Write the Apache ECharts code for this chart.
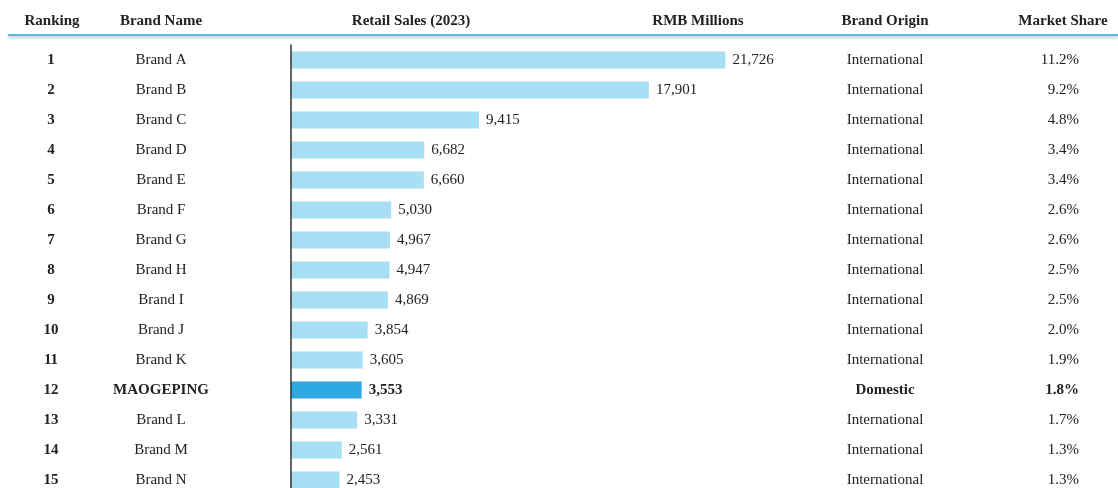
<!DOCTYPE html>
<html>
<head>
<meta charset="utf-8">
<script src="https://cdn.jsdelivr.net/npm/echarts@6/dist/echarts.min.js"></script>
<style>
html,body{margin:0;padding:0;background:#fff;}
#chart{width:1118px;height:488px;}
</style>
</head>
<body>
<div id="chart"></div>
<script>
var ranks = ['1','2','3','4','5','6','7','8','9','10','11','12','13','14','15'];
var brands = ['Brand A','Brand B','Brand C','Brand D','Brand E','Brand F','Brand G','Brand H','Brand I','Brand J','Brand K','MAOGEPING','Brand L','Brand M','Brand N'];
var sales = [21726,17901,9415,6682,6660,5030,4967,4947,4869,3854,3605,3553,3331,2561,2453];
var origins = ['International','International','International','International','International','International','International','International','International','International','International','Domestic','International','International','International'];
var shares = ['11.2%','9.2%','4.8%','3.4%','3.4%','2.6%','2.6%','2.5%','2.5%','2.0%','1.9%','1.8%','1.7%','1.3%','1.3%'];
var headers = ['Ranking','Brand Name','Retail Sales (2023)','RMB Millions','Brand Origin','Market Share'];

var FONT = '"Liberation Serif","DejaVu Serif",serif';
var TXT = '#222';
var hi = origins.indexOf('Domestic');

function labelAxis(data, position, margin, align, allBold) {
  return {
    type: 'category',
    data: data,
    inverse: true,
    position: position,
    axisLine: {show: false},
    axisTick: {show: false},
    splitLine: {show: false},
    axisLabel: {
      interval: 0,
      margin: margin,
      align: align,
      formatter: function (v, i) {
        return (allBold || i === hi) ? '{b|' + v + '}' : '{n|' + v + '}';
      },
      rich: {
        b: {fontFamily: FONT, fontSize: 15, fontWeight: 'bold', color: TXT},
        n: {fontFamily: FONT, fontSize: 15, color: TXT}
      }
    }
  };
}

var headerX = [52, 161, 411, 698, 885, 1063];
var graphics = headers.map(function (h, i) {
  return {
    type: 'text', x: headerX[i], y: 21,
    style: {text: h, fontFamily: FONT, fontSize: 15, fontWeight: 'bold', fill: TXT,
            textAlign: 'center', textVerticalAlign: 'middle'}
  };
});
graphics.push({
  type: 'line', shape: {x1: 8, y1: 35, x2: 1118, y2: 35},
  style: {stroke: '#2aa7e1', lineWidth: 1.5, shadowColor: 'rgba(0,0,0,0.35)', shadowBlur: 3, shadowOffsetY: 2}
});

var chart = echarts.init(document.getElementById('chart'));
chart.setOption({
  animation: false,
  backgroundColor: '#fff',
  graphic: graphics,
  grid: {left: 290.5, top: 45, width: 500.5, height: 450, containLabel: false, outerBoundsMode: 'none'},
  xAxis: {
    type: 'value', min: 0, max: 25000, show: false
  },
  yAxis: [
    {
      type: 'category', data: brands, inverse: true, z: 5,
      axisLine: {show: true, lineStyle: {color: '#333', width: 1.5}},
      axisTick: {show: false}, axisLabel: {show: false}, splitLine: {show: false}
    },
    labelAxis(ranks, 'left', 239.5, 'center', true),
    labelAxis(brands, 'left', 129.5, 'center', false),
    labelAxis(origins, 'right', 94, 'center', false),
    labelAxis(shares, 'right', 288, 'right', false)
  ],
  series: [{
    type: 'bar',
    yAxisIndex: 0,
    barWidth: 17,
    data: sales.map(function (v, i) {
      return {
        value: v,
        itemStyle: {color: i === hi ? '#2ea9e1' : '#a7dff4'},
        label: i === hi ? {fontWeight: 'bold'} : undefined
      };
    }),
    label: {
      show: true, position: 'right', distance: 7,
      fontFamily: FONT, fontSize: 15, color: TXT,
      formatter: function (p) { return p.value.toLocaleString('en-US'); }
    }
  }]
});
</script>
</body>
</html>
